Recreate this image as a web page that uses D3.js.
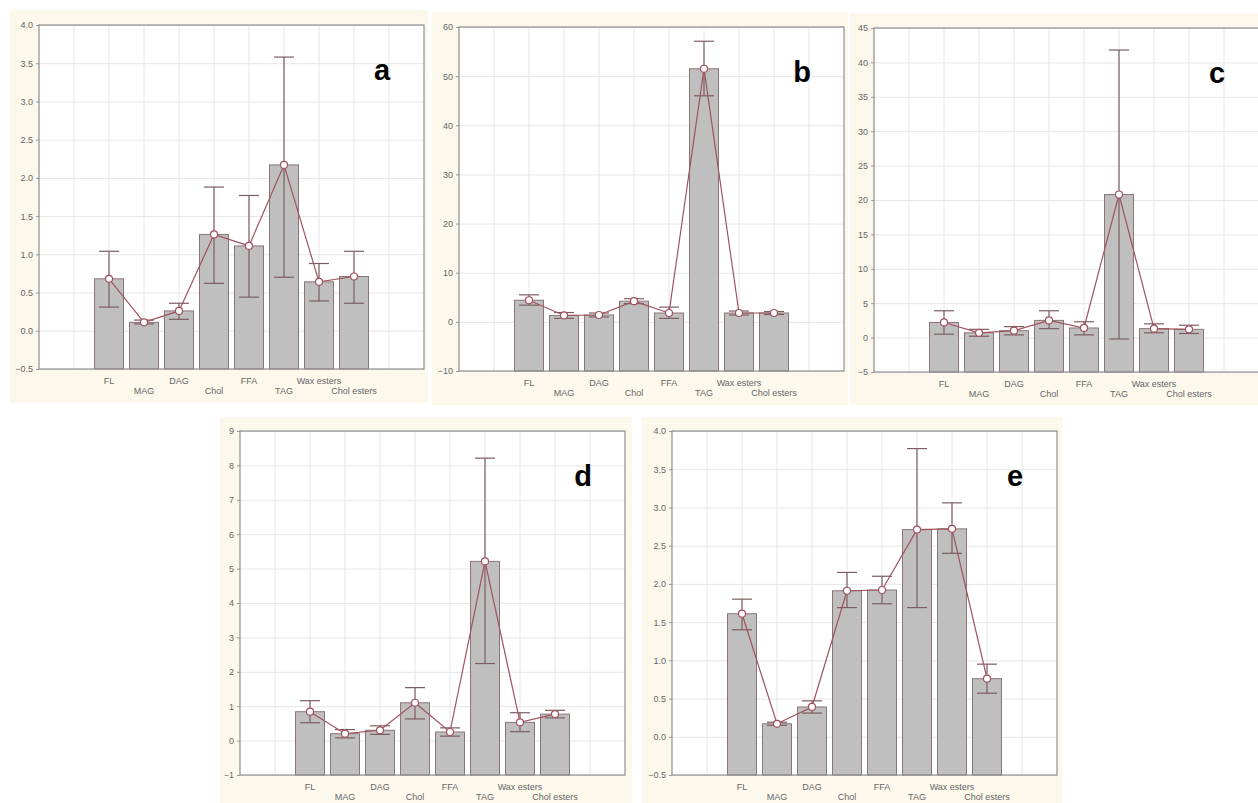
<!DOCTYPE html>
<html>
<head>
<meta charset="utf-8">
<script src="https://cdn.jsdelivr.net/npm/d3@7"></script>
<style>
  body { margin: 0; background: #fff; }
  svg { display: block; font-family: Arial, "Liberation Sans", sans-serif; }
</style>
</head>
<body>
<script>
// categories shown along the x axis (alternating rows)
let categories = ["FL", "MAG", "DAG", "Chol", "FFA", "TAG", "Wax esters", "Chol esters"];

// panel a
let meansA = [0.68, 0.11, 0.26, 1.26, 1.11, 2.17, 0.64, 0.71];
let lowA   = [0.31, 0.09, 0.15, 0.62, 0.44, 0.70, 0.39, 0.36];
let highA  = [1.04, 0.14, 0.36, 1.88, 1.77, 3.58, 0.88, 1.04];
// panel b
let meansB = [4.4, 1.3, 1.4, 4.2, 1.8, 51.5, 1.8, 1.8];
let lowB   = [3.4, 0.7, 1.0, 3.7, 0.7, 46.0, 1.4, 1.5];
let highB  = [5.5, 1.9, 1.8, 4.7, 3.0, 57.1, 2.2, 2.1];
// panel c
let meansC = [2.2, 0.7, 1.0, 2.5, 1.4, 20.8, 1.3, 1.2];
let lowC   = [0.5, 0.2, 0.4, 1.3, 0.4, -0.2, 0.7, 0.6];
let highC  = [3.9, 1.2, 1.6, 3.9, 2.3, 41.8, 2.0, 1.8];
// panel d
let meansD = [0.84, 0.20, 0.30, 1.10, 0.25, 5.21, 0.53, 0.77];
let lowD   = [0.52, 0.08, 0.18, 0.63, 0.13, 2.24, 0.26, 0.66];
let highD  = [1.16, 0.32, 0.43, 1.54, 0.37, 8.21, 0.81, 0.88];
// panel e
let meansE = [1.61, 0.17, 0.39, 1.91, 1.92, 2.71, 2.72, 0.76];
let lowE   = [1.40, 0.15, 0.31, 1.69, 1.74, 1.69, 2.40, 0.57];
let highE  = [1.80, 0.19, 0.47, 2.15, 2.10, 3.77, 3.06, 0.95];

// y axis ranges and tick steps
let domainA = [-0.5, 4], stepA = 0.5;
let domainB = [-10, 60], stepB = 10;
let domainC = [-5, 45], stepC = 5;
let domainD = [-1, 9], stepD = 1;
let domainE = [-0.5, 4], stepE = 0.5;

let plotW = 385;
let plotH = 344;

let panels = [
    { name: "a", means: meansA, low: lowA, high: highA, domain: domainA, step: stepA, fmt: ".1f", left: 39, top: 25, bg: [10, 10, 418, 393] },
    { name: "b", means: meansB, low: lowB, high: highB, domain: domainB, step: stepB, fmt: "d", left: 459, top: 27, bg: [432, 12, 416, 393] },
    { name: "c", means: meansC, low: lowC, high: highC, domain: domainC, step: stepC, fmt: "d", left: 874, top: 28, bg: [850, 13, 408, 392] },
    { name: "d", means: meansD, low: lowD, high: highD, domain: domainD, step: stepD, fmt: "d", left: 240, top: 431, bg: [220, 417, 412, 386] },
    { name: "e", means: meansE, low: lowE, high: highE, domain: domainE, step: stepE, fmt: ".1f", left: 672, top: 431, bg: [642, 417, 420, 386] }
];

let width = 1258;
let height = 803;

let svg = d3.select("body").append("svg")
    .attr("width", width)
    .attr("height", height)
    .attr("viewBox", [0, 0, width, height]);

let barColor = "#bfbfbf";
let barStroke = "#8c7577";
let lineColor = "#a0525e";
let errColor = "#7c5d61";
let textColor = "#666666";

panels.forEach(p => {
    // cream panel background
    svg.append("rect")
        .attr("x", p.bg[0]).attr("y", p.bg[1])
        .attr("width", p.bg[2]).attr("height", p.bg[3])
        .attr("fill", "#fdf8ec");

    let g = svg.append("g").attr("transform", `translate(${p.left},${p.top})`);

    g.append("rect")
        .attr("width", plotW).attr("height", plotH)
        .attr("fill", "#ffffff");

    let x = d3.scaleLinear().domain([0, 11]).range([0, plotW]);
    let y = d3.scaleLinear().domain(p.domain).range([plotH, 0]);
    let ticks = d3.range(p.domain[0], p.domain[1] + p.step / 2, p.step);

    // grid lines
    g.append("g")
        .selectAll("line")
        .data(d3.range(1, 11))
        .join("line")
        .attr("x1", d => x(d)).attr("x2", d => x(d))
        .attr("y1", 0).attr("y2", plotH)
        .attr("stroke", "#e6e6e6");

    // y axis with horizontal grid lines
    g.append("g")
        .call(d3.axisLeft(y).tickValues(ticks).tickFormat(d3.format(p.fmt)).tickSize(3).tickPadding(3))
        .call(g => g.select(".domain").remove())
        .call(g => g.selectAll(".tick line").attr("stroke", "#999"))
        .call(g => g.selectAll(".tick line").clone()
            .attr("x1", 0)
            .attr("x2", plotW)
            .attr("stroke", "#e6e6e6"))
        .call(g => g.selectAll("text")
            .attr("fill", textColor)
            .style("font-size", "9px"));

    // bars from the bottom of the plot
    g.append("g")
        .selectAll("rect")
        .data(p.means)
        .join("rect")
        .attr("x", (d, i) => x(i + 2) - 14.5)
        .attr("y", d => y(d))
        .attr("width", 29)
        .attr("height", d => y(p.domain[0]) - y(d))
        .attr("fill", barColor)
        .attr("stroke", barStroke)
        .attr("stroke-width", 1);

    // error bars
    let err = g.append("g")
        .attr("stroke", errColor)
        .attr("stroke-width", 1.2);
    p.means.forEach((d, i) => {
        let cx = x(i + 2);
        err.append("line")
            .attr("x1", cx).attr("x2", cx)
            .attr("y1", y(p.low[i])).attr("y2", y(p.high[i]));
        err.append("line")
            .attr("x1", cx - 10).attr("x2", cx + 10)
            .attr("y1", y(p.low[i])).attr("y2", y(p.low[i]));
        err.append("line")
            .attr("x1", cx - 10).attr("x2", cx + 10)
            .attr("y1", y(p.high[i])).attr("y2", y(p.high[i]));
    });

    // line through means
    let line = d3.line()
        .x((d, i) => x(i + 2))
        .y(d => y(d));

    g.append("path")
        .datum(p.means)
        .attr("fill", "none")
        .attr("stroke", lineColor)
        .attr("stroke-width", 1.2)
        .attr("d", line);

    g.append("g")
        .selectAll("circle")
        .data(p.means)
        .join("circle")
        .attr("cx", (d, i) => x(i + 2))
        .attr("cy", d => y(d))
        .attr("r", 3.5)
        .attr("fill", "#ffffff")
        .attr("stroke", lineColor)
        .attr("stroke-width", 1.2);

    // frame
    g.append("rect")
        .attr("width", plotW).attr("height", plotH)
        .attr("fill", "none")
        .attr("stroke", "#8f8f8f")
        .attr("stroke-width", 1.2);

    // category labels in two rows
    g.append("g")
        .selectAll("text")
        .data(categories)
        .join("text")
        .attr("x", (d, i) => x(i + 2))
        .attr("y", (d, i) => plotH + (i % 2 === 0 ? 15 : 25))
        .attr("text-anchor", "middle")
        .attr("fill", textColor)
        .style("font-size", "9px")
        .text(d => d);

    // panel letter
    g.append("text")
        .attr("x", plotW - 42)
        .attr("y", 55)
        .attr("text-anchor", "middle")
        .attr("fill", "#000")
        .style("font-size", "29px")
        .style("font-weight", "bold")
        .text(p.name);
});
</script>
</body>
</html>
